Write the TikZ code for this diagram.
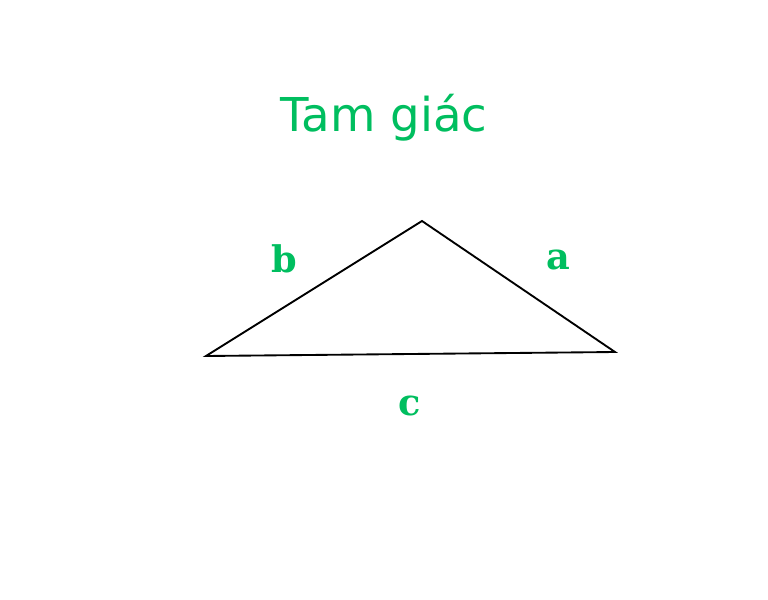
\documentclass[tikz,border=0pt]{standalone}
\usepackage{fontspec}
\newfontfamily\titlefont{DejaVu Sans}
\newfontfamily\labelfont{DejaVu Serif}
\definecolor{grn}{RGB}{0,190,95}
\begin{document}
\begin{tikzpicture}[x=0.75pt,y=-0.75pt,
  side/.style={draw=black,line width=1.4pt,line join=miter},
  lbl/.style={text=grn,font=\labelfont\bfseries\fontsize{27.5}{32}\selectfont,inner sep=0pt},
  ttl/.style={text=grn,font=\titlefont\fontsize{35}{42}\selectfont,inner sep=0pt}]
\useasboundingbox (0,0) rectangle (768,600);
\coordinate (A) at (206,356);
\coordinate (B) at (615,352);
\coordinate (C) at (422,221);
\draw[side] (A) -- (C) -- (B) -- cycle;
\node[ttl] (title) at (384,118) {Tam giác};
\node[lbl] (lb) at (284,259) {b};
\node[lbl] (la) at (558,260) {a};
\node[lbl] (lc) at (410,406) {c};
\end{tikzpicture}
\end{document}
